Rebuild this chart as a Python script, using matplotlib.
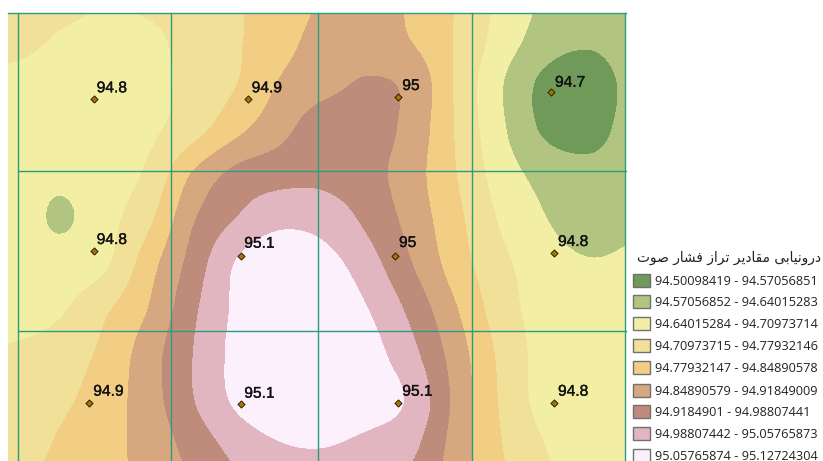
import numpy as np
import matplotlib
matplotlib.use("Agg")
import matplotlib.pyplot as plt
import matplotlib.patheffects as pe
from matplotlib.colors import BoundaryNorm, ListedColormap
from matplotlib.patches import Rectangle

# class limits from the legend
levels = [94.50098419, 94.57056851, 94.64015283, 94.70973714, 94.77932146,
          94.84890578, 94.91849009, 94.98807441, 95.05765873, 95.12724304]
legend_labels = ["94.50098419 - 94.57056851", "94.57056852 - 94.64015283",
                 "94.64015284 - 94.70973714", "94.70973715 - 94.77932146",
                 "94.77932147 - 94.84890578", "94.84890579 - 94.91849009",
                 "94.9184901 - 94.98807441", "94.98807442 - 95.05765873",
                 "95.05765874 - 95.12724304"]
colors = ["#6F9A5A", "#B1C581", "#F2EFA5", "#F1E097", "#F2CE85",
          "#D7A77F", "#BF8B7A", "#E2B6C0", "#FCF0FD"]

# surface, in class units (3.5 = middle of fourth class)
col_x = np.arange(17, 634, 44)
row_y = np.arange(-5, 491, 45)
r00 = [3.5, 3.35, 3.1, 3.2, 3.4, 3.9, 4.5, 5.1, 5.7, 4.8, 3.95, 2.8, 1.9, 1.6, 1.6]
r01 = [3.3, 2.9, 2.7, 2.85, 3.3, 3.9, 4.65, 5.35, 5.55, 4.95, 3.9, 2.6, 1.55, 1.2, 1.6]
r02 = [2.7, 2.45, 2.45, 2.7, 3.3, 4.0, 5.1, 5.7, 6.1, 5.7, 3.85, 2.1, 0.75, 0.35, 1.35]
r03 = [2.5, 2.4, 2.45, 2.8, 3.6, 4.75, 5.7, 6.6, 6.45, 5.6, 3.9, 2.2, 0.85, 0.6, 1.4]
r04 = [2.4, 2.2, 2.55, 3.2, 5.1, 6.3, 6.65, 6.75, 6.35, 5.4, 4.0, 2.55, 1.65, 1.3, 1.6]
r05 = [2.5, 1.88, 2.65, 3.8, 5.9, 7.05, 7.7, 7.55, 6.75, 5.6, 4.25, 2.9, 2.05, 1.4, 1.8]
r06 = [2.5, 2.45, 2.85, 4.6, 6.4, 8.1, 8.9, 8.4, 7.4, 6.0, 4.5, 3.25, 2.5, 2.1, 2.2]
r07 = [2.6, 2.9, 3.85, 5.05, 6.8, 8.2, 8.9, 8.8, 8.0, 6.7, 5.05, 3.5, 2.6, 2.4, 2.4]
r08 = [3.15, 3.5, 4.25, 5.55, 7.0, 8.3, 8.9, 8.9, 8.4, 7.25, 5.5, 3.8, 2.65, 2.4, 2.4]
r09 = [3.3, 3.8, 4.5, 5.55, 6.95, 8.2, 8.9, 8.95, 8.6, 7.75, 5.7, 3.9, 2.65, 2.4, 2.4]
r10 = [3.5, 4.15, 4.7, 5.35, 6.4, 7.35, 7.95, 8.05, 7.7, 7.2, 5.55, 4.05, 3.0, 2.5, 2.4]
r11 = [3.8, 4.4, 4.8, 5.2, 6.0, 6.8, 7.3, 7.4, 7.2, 6.7, 5.4, 4.2, 3.2, 2.6, 2.4]

# stations
station_x = [94.5, 248, 398.5, 551, 94.5, 241.5, 395, 554.5, 89.5, 241.5, 398.5, 554.5]
station_y = [99.5, 99.5, 97, 92.5, 250.5, 255.5, 255.5, 252.5, 402.5, 403.5, 402.5, 402.5]
station_labels = ["94.8", "94.9", "95", "94.7", "94.8", "95.1", "95", "94.8",
                  "94.9", "95.1", "95.1", "94.8"]
label_x = [96.7, 251.7, 402.3, 555, 96.7, 244.3, 399, 558, 93.3, 244.3, 402.3, 558]
label_y = [92.3, 92.3, 90, 86.7, 244, 247.7, 247, 246, 395.7, 397.7, 395.7, 395.7]

grid_x = [18.3, 171.5, 318, 472.5, 625.4]
grid_y = [170.7, 331]

# presentation forms in logical order, matplotlib does no arabic shaping
legend_title = ("\uFEA9\uFEAD\uFEED\uFEE7\uFEF4\uFE8E\uFE91\uFBFD "
                "\uFEE3\uFED8\uFE8E\uFEA9\uFEF3\uFEAE "
                "\uFE97\uFEAE\uFE8D\uFEAF "
                "\uFED3\uFEB8\uFE8E\uFEAD "
                "\uFEBB\uFEEE\uFE95")[::-1]

fig = plt.figure(figsize=(8.23, 4.61), dpi=100)
ax = fig.add_axes([0, 0, 1, 1])

z = levels[0] + np.array([r00, r01, r02, r03, r04, r05, r06, r07, r08, r09, r10, r11]) * (levels[1] - levels[0])
cmap = ListedColormap(colors)
norm = BoundaryNorm(levels, cmap.N, clip=True)
im = ax.imshow(z, cmap=cmap, norm=norm, interpolation="catrom", interpolation_stage="data",
               extent=(col_x[0] - 22, col_x[-1] + 22, row_y[-1] + 22.5, row_y[0] - 22.5),
               aspect="auto", zorder=1)
clip = Rectangle((8, 13), 618, 448, transform=ax.transData)
im.set_clip_path(clip)

ax.set_xlim(0, 823)
ax.set_ylim(461, 0)
ax.axis("off")

line_color = "#2A9D80"
ax.plot([8, 626], [12.8, 12.8], color=line_color, lw=1.0, zorder=2)
for x in grid_x:
    ax.plot([x, x], [13, 461], color=line_color, lw=1.0, zorder=2)
for y in grid_y:
    ax.plot([18.3, 626], [y, y], color=line_color, lw=1.0, zorder=2)

ax.scatter(station_x, station_y, marker="D", s=13, color="#A47500", edgecolor="#2B2000", linewidth=0.7, zorder=3)
for lx, ly, s in zip(label_x, label_y, station_labels):
    ax.text(lx, ly, s, family="Liberation Sans", fontsize=11.2, color="#111111", va="baseline", ha="left", zorder=4,
            path_effects=[pe.withStroke(linewidth=0.25, foreground="#111111")])

# legend
ax.text(821, 262, legend_title, family="DejaVu Sans", fontsize=9.9, color="#222222", ha="right", va="baseline")
swatch_y = [280, 301, 323, 345.5, 367.5, 390, 411.5, 433.5, 455.5]
for y, c, lab in zip(swatch_y, colors, legend_labels):
    ax.add_patch(Rectangle((633.5, y - 6.5), 17, 13, facecolor=c, edgecolor="#707070", linewidth=1.0, zorder=2))
    ax.text(655, y + 4.5, lab, family="Open Sans", fontsize=9.15, color="#222222", ha="left", va="baseline")

fig.savefig("out.png", dpi=100)
